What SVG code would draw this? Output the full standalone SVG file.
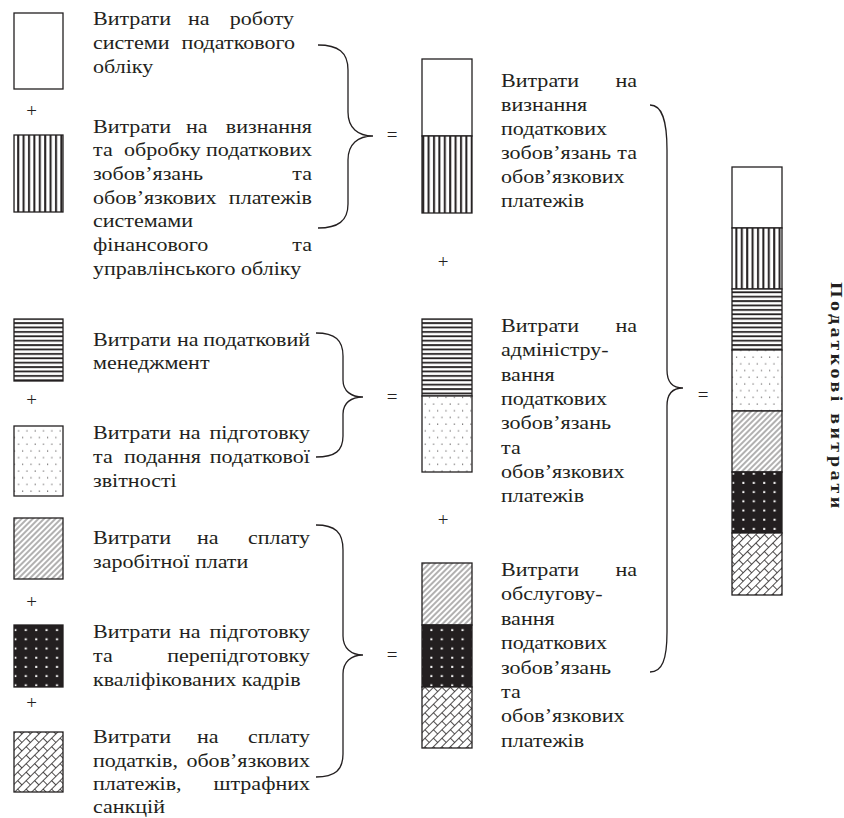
<svg xmlns="http://www.w3.org/2000/svg" width="844" height="818" viewBox="0 0 844 818">
<style>
.t{font-family:"Liberation Serif","Times New Roman",serif;font-size:19px;fill:#231f20}
.e{text-anchor:end}
.m{text-anchor:middle}
.op{font-family:"Liberation Serif","Times New Roman",serif;font-size:19px;fill:#231f20;text-anchor:middle}
.ttl{font-family:"Liberation Serif","Times New Roman",serif;font-size:16px;font-weight:bold;fill:#231f20}
.bx{stroke:#231f20;stroke-width:1.3}
.br{fill:none;stroke:#231f20;stroke-width:1.3}
</style>
<defs>
<pattern id="pV" width="5.4" height="10" patternUnits="userSpaceOnUse"><rect width="5.4" height="10" fill="#fff"/><rect x="1" width="2" height="10" fill="#231f20"/></pattern>
<pattern id="pH" width="10" height="4.4" patternUnits="userSpaceOnUse"><rect width="10" height="4.4" fill="#fff"/><rect y="1" width="10" height="1.8" fill="#231f20"/></pattern>
<pattern id="pD" width="8.3" height="13.4" patternUnits="userSpaceOnUse"><rect width="8.3" height="13.4" fill="#fff"/><circle cx="2" cy="2" r="0.6" fill="#231f20"/><circle cx="6.15" cy="8.7" r="0.6" fill="#231f20"/></pattern>
<pattern id="pG" width="4" height="4" patternUnits="userSpaceOnUse" patternTransform="rotate(45)"><rect width="4" height="4" fill="#fff"/><line x1="2" y1="0" x2="2" y2="4" stroke="#231f20" stroke-width="0.7"/></pattern>
<pattern id="pB" width="10.4" height="9.2" patternUnits="userSpaceOnUse"><rect width="10.4" height="9.2" fill="#231f20"/><rect x="4" y="3.5" width="2" height="2" fill="#fff"/></pattern>
<pattern id="pX" width="12" height="12" patternUnits="userSpaceOnUse" patternTransform="rotate(-45)"><rect width="12" height="12" fill="#fff"/><path d="M0,0.5H12M0,6.5H12M0.5,0.5V6.5M6.5,6.5V12M6.5,0V0.5" fill="none" stroke="#231f20" stroke-width="0.8"/></pattern>
</defs>

<g id="connectors">
<path class="br" d="M318,45 C338,45 348,52 348,70 L348,112 C348,128 358,136 373,136 C358,136 348,144 348,160 L348,204 C348,221 338,228 318,228"/>
<path class="br" d="M316,333 C335,333 343,340 343,356 L343,380 C343,391 351,397 363,397 C351,397 343,403 343,414 L343,436 C343,451 335,457 316,457"/>
<path class="br" d="M316,525 C335,525 343,532 343,550 L343,636 C343,648 351,655 363,655 C351,655 343,662 343,674 L343,754 C343,770 335,777 316,777"/>
<path class="br" d="M650,105 C662,105 667,120 667,150 L667,370 C667,382 673,388 683,388 C673,388 667,394 667,406 L667,632 C667,660 662,672 650,672"/>
<text class="op" x="392" y="141">=</text>
<text class="op" x="392" y="402.5">=</text>
<text class="op" x="392" y="660.5">=</text>
<text class="op" x="703" y="400.5">=</text>
<text class="op" x="31.5" y="117">+</text>
<text class="op" x="31.5" y="406">+</text>
<text class="op" x="31.5" y="608">+</text>
<text class="op" x="31.5" y="709">+</text>
<text class="op" x="443" y="268">+</text>
<text class="op" x="443" y="526">+</text>
</g>

<g id="n1">
<rect class="bx" x="14" y="13" width="49" height="76" fill="#fff"/>
<text class="t" transform="matrix(1.16 0 0 1 93 25)">Витрати</text>
<text class="t" transform="matrix(1.16 0 0 1 188 25)">на</text>
<text class="t e" transform="matrix(1.16 0 0 1 294 25)">роботу</text>
<text class="t" transform="matrix(1.16 0 0 1 93 49)">системи</text>
<text class="t e" transform="matrix(1.16 0 0 1 295 49)">податкового</text>
<text class="t" transform="matrix(1.16 0 0 1 93 73)">обліку</text>
</g>

<g id="n2">
<rect class="bx" x="14" y="135" width="49" height="77" fill="url(#pV)"/>
<text class="t" transform="matrix(1.16 0 0 1 93 132.5)">Витрати</text>
<text class="t" transform="matrix(1.16 0 0 1 186 132.5)">на</text>
<text class="t e" transform="matrix(1.16 0 0 1 312 132.5)">визнання</text>
<text class="t" transform="matrix(1.16 0 0 1 93 156)">та</text>
<text class="t" transform="matrix(1.16 0 0 1 124 156)">обробку</text>
<text class="t e" transform="matrix(1.16 0 0 1 312 156)">податкових</text>
<text class="t" transform="matrix(1.16 0 0 1 93 180)">зобов’язань</text>
<text class="t e" transform="matrix(1.16 0 0 1 312 180)">та</text>
<text class="t" transform="matrix(1.16 0 0 1 93 203.5)">обов’язкових</text>
<text class="t e" transform="matrix(1.16 0 0 1 312 203.5)">платежів</text>
<text class="t" transform="matrix(1.16 0 0 1 93 227)">системами</text>
<text class="t" transform="matrix(1.16 0 0 1 93 251)">фінансового</text>
<text class="t e" transform="matrix(1.16 0 0 1 312 251)">та</text>
<text class="t" transform="matrix(1.16 0 0 1 93 274.5)">управлінського обліку</text>
</g>

<g id="n3">
<rect class="bx" x="14" y="319" width="49" height="62" fill="url(#pH)"/>
<text class="t" transform="matrix(1.16 0 0 1 93 345.5)">Витрати</text>
<text class="t" transform="matrix(1.16 0 0 1 177 345.5)">на</text>
<text class="t e" transform="matrix(1.16 0 0 1 310 345.5)">податковий</text>
<text class="t" transform="matrix(1.16 0 0 1 93 369)">менеджмент</text>
</g>

<g id="n4">
<rect class="bx" x="14" y="426" width="49" height="70" fill="url(#pD)"/>
<text class="t" transform="matrix(1.16 0 0 1 93 438.5)">Витрати</text>
<text class="t" transform="matrix(1.16 0 0 1 179 438.5)">на</text>
<text class="t e" transform="matrix(1.16 0 0 1 310 438.5)">підготовку</text>
<text class="t" transform="matrix(1.16 0 0 1 93 462.5)">та</text>
<text class="t" transform="matrix(1.16 0 0 1 124 462.5)">подання</text>
<text class="t e" transform="matrix(1.16 0 0 1 310 462.5)">податкової</text>
<text class="t" transform="matrix(1.16 0 0 1 93 486.5)">звітності</text>
</g>

<g id="n5">
<rect class="bx" x="14" y="518" width="49" height="61" fill="url(#pG)"/>
<text class="t" transform="matrix(1.16 0 0 1 93 544)">Витрати</text>
<text class="t" transform="matrix(1.16 0 0 1 197 544)">на</text>
<text class="t e" transform="matrix(1.16 0 0 1 310 544)">сплату</text>
<text class="t" transform="matrix(1.16 0 0 1 93 568)">заробітної плати</text>
</g>

<g id="n6">
<rect class="bx" x="14" y="625" width="49" height="62" fill="url(#pB)"/>
<text class="t" transform="matrix(1.16 0 0 1 93 638)">Витрати</text>
<text class="t" transform="matrix(1.16 0 0 1 179 638)">на</text>
<text class="t e" transform="matrix(1.16 0 0 1 310 638)">підготовку</text>
<text class="t" transform="matrix(1.16 0 0 1 93 662)">та</text>
<text class="t e" transform="matrix(1.16 0 0 1 310 662)">перепідготовку</text>
<text class="t" transform="matrix(1.16 0 0 1 93 685.5)">кваліфікованих кадрів</text>
</g>

<g id="n7">
<rect class="bx" x="14" y="732" width="49" height="60" fill="url(#pX)"/>
<text class="t" transform="matrix(1.16 0 0 1 93 743)">Витрати</text>
<text class="t" transform="matrix(1.16 0 0 1 197 743)">на</text>
<text class="t e" transform="matrix(1.16 0 0 1 310 743)">сплату</text>
<text class="t" transform="matrix(1.16 0 0 1 93 767)">податків,</text>
<text class="t e" transform="matrix(1.16 0 0 1 310 767)">обов’язкових</text>
<text class="t" transform="matrix(1.16 0 0 1 93 790)">платежів,</text>
<text class="t e" transform="matrix(1.16 0 0 1 310 790)">штрафних</text>
<text class="t" transform="matrix(1.16 0 0 1 93 813)">санкцій</text>
</g>

<g id="m1">
<rect class="bx" x="422" y="59" width="50" height="77" fill="#fff"/>
<rect class="bx" x="422" y="136" width="50" height="77" fill="url(#pV)"/>
<text class="t" transform="matrix(1.16 0 0 1 501 87)">Витрати</text>
<text class="t e" transform="matrix(1.16 0 0 1 637 87)">на</text>
<text class="t" transform="matrix(1.16 0 0 1 501 111)">визнання</text>
<text class="t" transform="matrix(1.16 0 0 1 501 135)">податкових</text>
<text class="t" transform="matrix(1.16 0 0 1 501 159)">зобов’язань</text>
<text class="t e" transform="matrix(1.16 0 0 1 637 159)">та</text>
<text class="t" transform="matrix(1.16 0 0 1 501 183)">обов’язкових</text>
<text class="t" transform="matrix(1.16 0 0 1 501 207)">платежів</text>
</g>

<g id="m2">
<rect class="bx" x="422" y="319" width="50" height="77" fill="url(#pH)"/>
<rect class="bx" x="422" y="396" width="50" height="76" fill="url(#pD)"/>
<text class="t" transform="matrix(1.16 0 0 1 501 332)">Витрати</text>
<text class="t e" transform="matrix(1.16 0 0 1 637 332)">на</text>
<text class="t" transform="matrix(1.16 0 0 1 501 356)">адміністру-</text>
<text class="t" transform="matrix(1.16 0 0 1 501 381)">вання</text>
<text class="t" transform="matrix(1.16 0 0 1 501 405)">податкових</text>
<text class="t" transform="matrix(1.16 0 0 1 501 429)">зобов’язань</text>
<text class="t" transform="matrix(1.16 0 0 1 501 454)">та</text>
<text class="t" transform="matrix(1.16 0 0 1 501 478)">обов’язкових</text>
<text class="t" transform="matrix(1.16 0 0 1 501 502)">платежів</text>
</g>

<g id="m3">
<rect class="bx" x="422" y="563" width="50" height="62" fill="url(#pG)"/>
<rect class="bx" x="422" y="625" width="50" height="62" fill="url(#pB)"/>
<rect class="bx" x="422" y="687" width="50" height="61" fill="url(#pX)"/>
<text class="t" transform="matrix(1.16 0 0 1 501 576)">Витрати</text>
<text class="t e" transform="matrix(1.16 0 0 1 637 576)">на</text>
<text class="t" transform="matrix(1.16 0 0 1 501 600)">обслугову-</text>
<text class="t" transform="matrix(1.16 0 0 1 501 625)">вання</text>
<text class="t" transform="matrix(1.16 0 0 1 501 649)">податкових</text>
<text class="t" transform="matrix(1.16 0 0 1 501 674)">зобов’язань</text>
<text class="t" transform="matrix(1.16 0 0 1 501 698)">та</text>
<text class="t" transform="matrix(1.16 0 0 1 501 722)">обов’язкових</text>
<text class="t" transform="matrix(1.16 0 0 1 501 747)">платежів</text>
</g>

<g id="total">
<rect class="bx" x="732" y="167" width="50" height="61" fill="#fff"/>
<rect class="bx" x="732" y="228" width="50" height="61" fill="url(#pV)"/>
<rect class="bx" x="732" y="289" width="50" height="61" fill="url(#pH)"/>
<rect class="bx" x="732" y="350" width="50" height="61" fill="url(#pD)"/>
<rect class="bx" x="732" y="411" width="50" height="61" fill="url(#pG)"/>
<rect class="bx" x="732" y="472" width="50" height="61" fill="url(#pB)"/>
<rect class="bx" x="732" y="533" width="50" height="62" fill="url(#pX)"/>
</g>

<g id="title">
<text class="ttl" transform="translate(830.5,282) rotate(90) scale(1.25,1)" textLength="181" lengthAdjust="spacing">Податкові витрати</text>
</g>
</svg>
